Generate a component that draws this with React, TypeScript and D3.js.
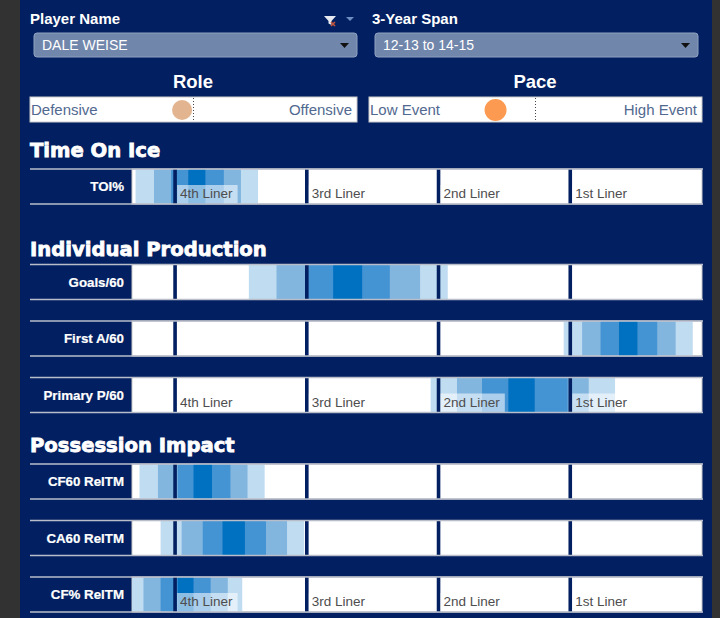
import * as d3 from "d3"

// tier thresholds on the liner axis (0 = 4th liner ... 3 = 1st liner)
const tiers = ["4th Liner", "3rd Liner", "2nd Liner", "1st Liner"]
const tierStarts = [0, 1, 2, 3]

const metricNames = ["TOI%", "Goals/60", "First A/60", "Primary P/60", "CF60 RelTM", "CA60 RelTM", "CF% RelTM"]
const metricSection = ["Time On Ice", "Individual Production", "Individual Production", "Individual Production", "Possession Impact", "Possession Impact", "Possession Impact"]
const metricShowTiers = [true, false, false, true, false, false, true]

// nested ranges, widest first: [lo, hi] in liner units
const band90 = [[-0.3, 0.63], [0.56, 2.07], [2.95, 3.93], [1.94, 3.34], [-0.27, 0.68], [-0.11, 0.98], [-0.36, 0.51]]
const band70 = [[-0.16, 0.5], [0.77, 1.86], [3.09, 3.8], [2.14, 3.14], [-0.13, 0.55], [0.05, 0.85], [-0.24, 0.4]]
const band50 = [[-0.03, 0.37], [0.99, 1.63], [3.23, 3.66], [2.33, 2.98], [0.02, 0.42], [0.21, 0.69], [-0.11, 0.27]]
const band25 = [[0.1, 0.23], [1.2, 1.42], [3.37, 3.51], [2.53, 2.73], [0.14, 0.28], [0.36, 0.53], [0.02, 0.14]]

const playerName = "DALE WEISE"
const span = "12-13 to 14-15"
const roleValue = -0.07 // -1 defensive .. 1 offensive
const paceValue = -0.24 // -1 low event .. 1 high event

const NAVY = "#022061"
const bandColors = ["#c0dcf1", "#82b6df", "#4493d3", "#0070c0"]
const bands = [band90, band70, band50, band25]

const sectionTitles = ["Time On Ice", "Individual Production", "Possession Impact"]
const sectionBaseline = [157, 256, 452]
const sectionFirstRow = [169, 264.5, 464]
const ROW_STEP = 56.5
const ROW_H = 35

function textWidth(t: string, font: string) {
  const c = document.createElement("canvas").getContext("2d")
  if (!c) return t.length * 7
  c.font = font
  return c.measureText(t).width
}

function Slider({ x0, x1, y, left, right, value, color, r }: any) {
  const s = d3.scaleLinear().domain([-1, 1]).range([x0, x1])
  return (
    <g>
      <rect x={x0} y={y} width={x1 - x0} height={25} fill="#fff" stroke="#c9c9c9" />
      <line x1={s(0)} x2={s(0)} y1={y + 1} y2={y + 24} stroke="#444" strokeDasharray="1,2" />
      <circle cx={s(value)} cy={y + 13} r={r} fill={color} />
      <text x={x0 + 1} y={y + 18} fontSize={15} fill="#52698f">{left}</text>
      <text x={x1 - 5} y={y + 18} fontSize={15} fill="#52698f" textAnchor="end">{right}</text>
    </g>
  )
}

function Dropdown({ x, y, w, label }: any) {
  return (
    <g>
      <rect x={x} y={y} width={w} height={24} rx={3} fill="#7186ab" stroke="#8fa1c0" />
      <text x={x + 8} y={y + 17} fontSize={14} fill="#fff">{label}</text>
      <path d={`M${x + w - 17},${y + 10}h9l-4.5,5z`} fill="#111" />
    </g>
  )
}

export default function App() {
  const W = 720
  const H = 618
  const x = d3.scaleLinear().domain([-0.327, 4]).range([132, 702]).clamp(true)
  const tierFont = "13.5px 'Liberation Sans', Arial, sans-serif"

  const rowTops = metricNames.map((_, i) => {
    const s = sectionTitles.indexOf(metricSection[i])
    const k = metricSection.slice(0, i).filter((m) => m === metricSection[i]).length
    return sectionFirstRow[s] + k * ROW_STEP
  })

  return (
    <div style={{ position: "absolute", left: 0, top: 0 }}>
      <svg width={W} height={H} style={{ display: "block", fontFamily: "'Liberation Sans', Arial, sans-serif" }}>
        <rect width={W} height={H} fill="#323232" />
        <rect x={20} width={692} height={H} fill={NAVY} />

        {/* filters */}
        <text x={30} y={24} fontSize={15} fontWeight="bold" fill="#fff">Player Name</text>
        <path d="M324,16h12l-4.5,5v4l-3,-1.5v-2.5z" fill="#e6e9f0" />
        <path d="M331,22l4,4M335,22l-4,4" stroke="#c0533a" strokeWidth={1.6} />
        <path d="M346,17h8l-4,4z" fill="#6f8fc4" />
        <Dropdown x={34} y={33} w={323} label={playerName} />
        <text x={372} y={24} fontSize={15} fontWeight="bold" fill="#fff">3-Year Span</text>
        <Dropdown x={375} y={33} w={323} label={span} />

        <text x={193} y={88} fontSize={18.5} fontWeight="bold" fill="#fff" textAnchor="middle">Role</text>
        <Slider x0={30} x1={357} y={97} left="Defensive" right="Offensive" value={roleValue} color="#e2b590" r={10} />
        <text x={535} y={88} fontSize={18.5} fontWeight="bold" fill="#fff" textAnchor="middle">Pace</text>
        <Slider x0={369} x1={702} y={97} left="Low Event" right="High Event" value={paceValue} color="#fb9a50" r={11} />

        {sectionTitles.map((t, i) => (
          <text key={t} x={30} y={sectionBaseline[i]} fontSize={19.6} fontWeight="bold" fill="#fff"
            stroke="#fff" strokeWidth={0.8} style={{ fontFamily: "'DejaVu Sans', sans-serif" }}>{t}</text>
        ))}

        {metricNames.map((name, i) => {
          const top = rowTops[i]
          const bottom = top + ROW_H
          return (
            <g key={name}>
              <rect x={132} y={top} width={570} height={ROW_H} fill="#fff" stroke="#c8c8c8" />
              {bands.map((b, j) => (
                <rect key={j} x={x(b[i][0])} y={top + 0.5} width={x(b[i][1]) - x(b[i][0])} height={ROW_H - 1}
                  fill={bandColors[j]} />
              ))}
              {tierStarts.map((t) => (
                <rect key={t} x={x(t) - 1.8} y={top} width={3.6} height={ROW_H} fill={NAVY} />
              ))}
              {metricShowTiers[i] && tiers.map((label, t) => {
                const tx = x(tierStarts[t])
                const tw = textWidth(label, tierFont)
                return (
                  <g key={label}>
                    <rect x={tx + 2} y={bottom - 19} width={tw + 8} height={18.5} fill="#fff" fillOpacity={0.55} />
                    <text x={tx + 5} y={bottom - 6} fontSize={13.5} fill="#4d4d4d">{label}</text>
                  </g>
                )
              })}
              <line x1={30} x2={703} y1={top} y2={top} stroke="#b9bdca" strokeWidth={1.5} />
              <line x1={30} x2={703} y1={bottom} y2={bottom} stroke="#b9bdca" strokeWidth={1.5} />
              <text x={124} y={top + ROW_H / 2 + 4.5} fontSize={13.3} fontWeight="bold" fill="#fff" textAnchor="end"
                stroke="#fff" strokeWidth={0.2}>{name}</text>
            </g>
          )
        })}
      </svg>
    </div>
  )
}
